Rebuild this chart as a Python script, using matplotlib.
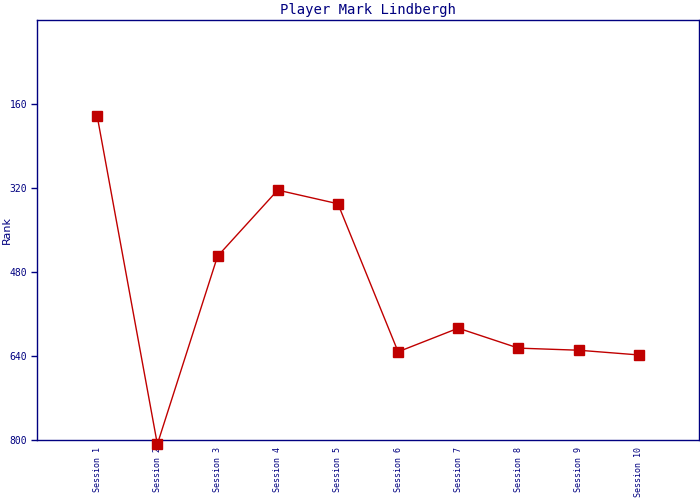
import numpy as np
import matplotlib
matplotlib.use('Agg')
import matplotlib.pyplot as plt

sessions = ['Session 1', 'Session 2', 'Session 3', 'Session 4', 'Session 5',
            'Session 6', 'Session 7', 'Session 8', 'Session 9', 'Session 10']
ranks = [183, 808, 450, 324, 350, 632, 587, 625, 629, 638]
yticks = [160, 320, 480, 640, 800]

navy = '#000080'
red = '#C00000'

fig = plt.figure(figsize=(7, 5), dpi=100)
ax = fig.add_axes([37/700, 60/500, 662/700, 420/500])

x = np.arange(1, len(sessions) + 1)
ax.plot(x, ranks, color=red, linewidth=1.0, marker='s', markersize=7,
        markerfacecolor=red, markeredgecolor=red, clip_on=False, zorder=5)

ax.set_xlim(0, len(sessions) + 1)
ax.set_ylim(800, 0)
ax.set_yticks(yticks)
ax.set_yticklabels([str(v) for v in yticks], family='DejaVu Sans Mono',
                   fontsize=7, color=navy)
ax.set_xticks(x)
ax.set_xticklabels(sessions, rotation=90, family='DejaVu Sans Mono',
                   fontsize=6, color=navy)
ax.tick_params(axis='x', length=0, pad=5)
ax.tick_params(axis='y', length=4, width=1, color=navy, pad=3)

for s in ax.spines.values():
    s.set_color(navy)
    s.set_linewidth(1)

ax.set_ylabel('Rank', color=navy, fontsize=8)
ax.yaxis.set_label_coords(-25/662, 0.5)
ax.set_title('Player Mark Lindbergh', family='DejaVu Sans Mono', fontsize=10,
             color=navy, pad=4)

plt.savefig('out.png', dpi=100)
